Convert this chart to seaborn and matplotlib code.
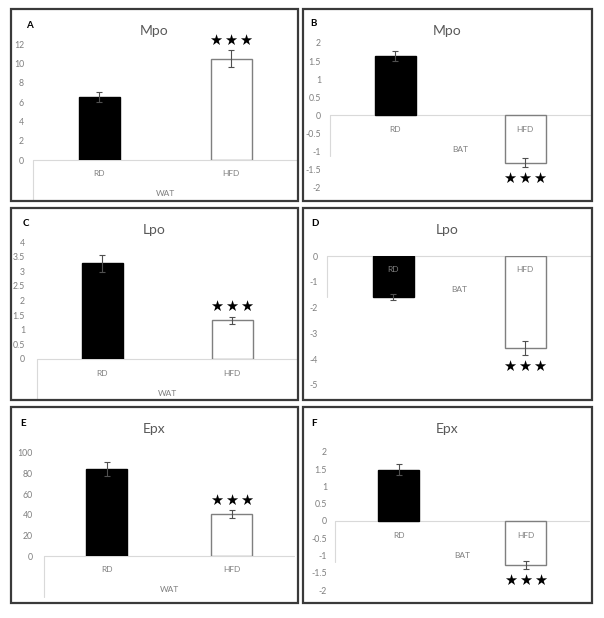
import numpy as np
import matplotlib
matplotlib.use("Agg")
import matplotlib.pyplot as plt
from matplotlib.patches import Rectangle
import seaborn as sns

sns.set_theme(style="white")
plt.rcParams['font.family'] = ['Lato', 'DejaVu Sans']
plt.rcParams['axes.unicode_minus'] = False

groups = ["RD", "HFD"]

mpo_wat = [6.5, 10.5]
mpo_wat_err = [0.55, 0.85]
mpo_bat = [1.63, -1.30]
mpo_bat_err = [0.14, 0.12]
lpo_wat = [3.28, 1.33]
lpo_wat_err = [0.29, 0.12]
lpo_bat = [-1.59, -3.57]
lpo_bat_err = [0.12, 0.27]
epx_wat = [84.5, 40.8]
epx_wat_err = [7.0, 3.5]
epx_bat = [1.48, -1.28]
epx_bat_err = [0.16, 0.12]

W, H = 604, 618
TICK_C = '#7f7f7f'
LINE_C = '#d9d9d9'


def fx(x):
    return x / W


def fy(y):
    return 1 - y / H


fig = plt.figure(figsize=(W / 100, H / 100), dpi=100)
fig.patch.set_facecolor('white')

# pixel geometry of every panel: border box, axes x-span, pixel rows of first/last tick
panels = [
    dict(letter="A", title="Mpo", tissue="WAT", vals=mpo_wat, errs=mpo_wat_err,
         ticks=np.arange(0, 13, 2), box=(11, 9, 298, 201), ax_x=(33, 297), ax_y=(160, 44),
         pad=9, letter_xy=(29, 26)),
    dict(letter="B", title="Mpo", tissue="BAT", vals=mpo_bat, errs=mpo_bat_err,
         ticks=np.arange(-2, 2.01, 0.5), box=(303, 9, 592, 201), ax_x=(330, 590), ax_y=(188, 43),
         pad=9, letter_xy=(313, 24)),
    dict(letter="C", title="Lpo", tissue="WAT", vals=lpo_wat, errs=lpo_wat_err,
         ticks=np.arange(0, 4.01, 0.5), box=(11, 208, 298, 400), ax_x=(37, 297), ax_y=(359, 242),
         pad=12, letter_xy=(26, 223)),
    dict(letter="D", title="Lpo", tissue="BAT", vals=lpo_bat, errs=lpo_bat_err,
         ticks=np.arange(-5, 0.01, 1), box=(303, 208, 592, 400), ax_x=(327, 591), ax_y=(385, 256),
         pad=9, letter_xy=(315, 223)),
    dict(letter="E", title="Epx", tissue="WAT", vals=epx_wat, errs=epx_wat_err,
         ticks=np.arange(0, 101, 20), box=(11, 407, 298, 603), ax_x=(44, 294), ax_y=(556, 453),
         pad=11, letter_xy=(23, 423)),
    dict(letter="F", title="Epx", tissue="BAT", vals=epx_bat, errs=epx_bat_err,
         ticks=np.arange(-2, 2.01, 0.5), box=(303, 407, 592, 603), ax_x=(335, 589), ax_y=(590, 452),
         pad=8, letter_xy=(314, 423)),
]

for p in panels:
    x0, y0, x1, y1 = p['box']
    fig.add_artist(Rectangle((fx(x0), fy(y1)), fx(x1 - x0), (y1 - y0) / H,
                             transform=fig.transFigure, fill=False,
                             edgecolor='#3a3a3a', lw=1.6))

    axl, axr = p['ax_x']
    yb, yt = p['ax_y']
    ax = fig.add_axes([fx(axl), fy(yb), fx(axr - axl), (yb - yt) / H])
    ax.set_facecolor('none')
    ymin, ymax = p['ticks'][0], p['ticks'][-1]
    ax.set_ylim(ymin, ymax)
    upp = (ymax - ymin) / (yb - yt)  # data units per pixel
    half_px = (axr - axl) / 2

    sns.barplot(x=groups, y=p['vals'], hue=groups, palette=['black', 'white'],
                width=41 / half_px, legend=False, ax=ax, zorder=2)
    for patch, ec in zip(ax.patches, ['black', '#7f7f7f']):
        patch.set_edgecolor(ec)
        patch.set_linewidth(1.0)
    ax.errorbar(range(len(groups)), p['vals'], yerr=p['errs'], fmt='none',
                ecolor='#505050', elinewidth=0.8, capsize=2.2, capthick=0.8, zorder=3)
    ax.set_xlim(-0.5, 1.5)

    ax.set_yticks(p['ticks'])
    ax.set_yticklabels([f"{t:g}" for t in p['ticks']])
    ax.tick_params(axis='y', length=0, pad=p['pad'] * 0.72, labelsize=6.3, labelcolor=TICK_C)
    ax.set_xticks([])
    ax.set_xlabel("")
    ax.set_ylabel("")
    for s in ax.spines.values():
        s.set_visible(False)

    # category axis box (Excel style)
    tr = ax.get_yaxis_transform()
    ax.plot([0, 1], [0, 0], transform=tr, color=LINE_C, lw=0.8, clip_on=False, zorder=1)
    ax.plot([0, 0], [0, -41 * upp], transform=tr, color=LINE_C, lw=0.8, clip_on=False, zorder=1)
    for i, g in enumerate(groups):
        ax.text(i, -14 * upp, g, ha='center', va='center', fontsize=6,
                color=TICK_C, clip_on=False, zorder=4)
    ax.text(0.5, -34 * upp, p['tissue'], transform=tr, ha='center', va='center',
            fontsize=6, color=TICK_C, clip_on=False)

    # significance stars on HFD
    v, e = p['vals'][1], p['errs'][1]
    if v >= 0:
        sy = v + e + 10 * upp
    else:
        sy = v - e - 11 * upp
    for k in (-1, 0, 1):
        ax.text(1 + k * 15 / half_px, sy, "★", ha='center', va='center', fontsize=10.5,
                family=['DejaVu Sans'], color='black', clip_on=False)

    fig.text(fx((x0 + x1) / 2), fy(y0 + 22), p['title'], ha='center', va='center',
             fontsize=10, color='#595959')
    lx, ly = p['letter_xy']
    fig.text(fx(lx), fy(ly), p['letter'], ha='center', va='center', fontsize=7,
             fontweight='bold', color='black')

fig.savefig("out.png", dpi=100, facecolor='white')
